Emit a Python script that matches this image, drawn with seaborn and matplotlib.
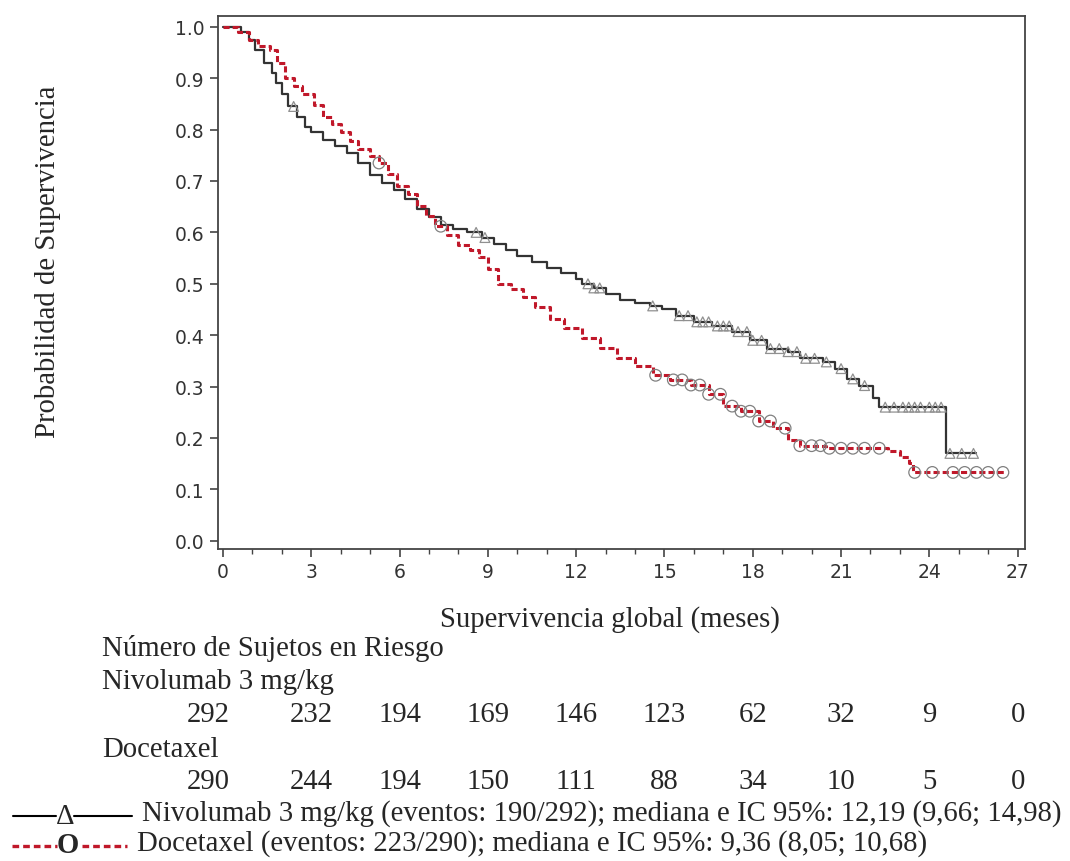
import matplotlib
matplotlib.use('Agg')
import matplotlib.pyplot as plt
import matplotlib.transforms as mtransforms
from matplotlib.lines import Line2D
from matplotlib.ticker import MultipleLocator
import seaborn as sns
import numpy as np

# Nivolumab 3 mg/kg: escalones de la curva KM (meses, supervivencia)
nivo_t = [0.0, 0.6, 0.9, 1.1, 1.4, 1.65, 1.8, 2.0, 2.2, 2.5, 2.8, 3.0, 3.4, 3.8,
          4.2, 4.6, 5.0, 5.4, 5.8, 6.2, 6.6, 7.0, 7.4, 7.8, 8.3, 8.8, 9.2, 9.6,
          10.0, 10.5, 11.0, 11.5, 12.0, 12.2, 12.6, 13.0, 13.5, 14.0, 14.5, 14.9,
          15.4, 16.0, 16.6, 17.3, 17.9, 18.5, 19.2, 19.6, 20.4, 20.8, 21.2, 21.6,
          22.1, 22.3, 24.55, 25.6]
nivo_s = [1.0, 0.99, 0.975, 0.955, 0.93, 0.91, 0.89, 0.87, 0.845, 0.825, 0.805,
          0.795, 0.78, 0.768, 0.755, 0.735, 0.712, 0.697, 0.682, 0.665, 0.645,
          0.63, 0.615, 0.606, 0.60, 0.59, 0.578, 0.565, 0.555, 0.543, 0.531,
          0.521, 0.51, 0.50, 0.492, 0.481, 0.468, 0.463, 0.457, 0.45, 0.438,
          0.426, 0.418, 0.407, 0.39, 0.374, 0.368, 0.355, 0.348, 0.335, 0.315,
          0.302, 0.278, 0.26, 0.17, 0.17]
nivo_cens = [2.4, 8.6, 8.9, 12.4, 12.6, 12.8, 14.6, 15.5, 15.8, 16.1, 16.3, 16.5,
             16.8, 17.0, 17.2, 17.5, 17.8, 18.0, 18.3, 18.6, 18.9, 19.2, 19.5,
             19.8, 20.1, 20.5, 21.0, 21.4, 21.8, 22.5, 22.8, 23.1, 23.3, 23.5,
             23.7, 24.0, 24.2, 24.4, 24.7, 25.1, 25.5]

# Docetaxel
doce_t = [0.0, 0.5, 0.9, 1.2, 1.6, 1.85, 2.1, 2.4, 2.7, 3.1, 3.4, 3.7, 4.0, 4.3,
          4.6, 5.0, 5.3, 5.6, 5.9, 6.3, 6.6, 6.9, 7.2, 7.6, 8.0, 8.4, 8.7, 9.0,
          9.36, 9.8, 10.2, 10.6, 11.1, 11.6, 12.2, 12.8, 13.4, 14.0, 14.6, 15.2,
          15.9, 16.5, 17.0, 17.6, 18.2, 18.7, 19.2, 19.6, 20.5, 22.6, 23.0, 23.3,
          23.45, 26.6]
doce_s = [1.0, 0.99, 0.975, 0.962, 0.955, 0.93, 0.90, 0.885, 0.87, 0.848, 0.825,
          0.81, 0.795, 0.778, 0.762, 0.748, 0.735, 0.713, 0.69, 0.675, 0.652,
          0.632, 0.612, 0.595, 0.576, 0.565, 0.552, 0.528, 0.50, 0.49, 0.475,
          0.455, 0.432, 0.414, 0.394, 0.375, 0.355, 0.34, 0.322, 0.313, 0.303,
          0.285, 0.262, 0.252, 0.233, 0.219, 0.197, 0.185, 0.18, 0.175, 0.163,
          0.152, 0.133, 0.133]
doce_cens = [5.3, 7.4, 14.7, 15.3, 15.6, 15.9, 16.2, 16.5, 16.9, 17.3, 17.6,
             17.9, 18.2, 18.6, 19.1, 19.6, 20.0, 20.3, 20.6, 21.0, 21.4, 21.8,
             22.3, 23.5, 24.1, 24.8, 25.2, 25.6, 26.0, 26.5]

meses = [0, 3, 6, 9, 12, 15, 18, 21, 24, 27]
riesgo_nivo = [292, 232, 194, 169, 146, 123, 62, 32, 9, 0]
riesgo_doce = [290, 244, 194, 150, 111, 88, 34, 10, 5, 0]


def km_en(tk, sk, tc):
    tk = np.asarray(tk)
    sk = np.asarray(sk)
    idx = np.searchsorted(tk, tc, side='right') - 1
    return sk[idx]


sns.set_style('ticks')
plt.rcParams['font.family'] = ['DejaVu Sans']
SERIF = 'Liberation Serif'
W, H = 1070, 862

fig = plt.figure(figsize=(W / 100, H / 100), dpi=100)
ax = fig.add_axes([218 / W, 1 - 550 / H, (1025 - 218) / W, (550 - 17) / H])

negro = '#333333'
rojo = '#c0182a'

sns.lineplot(x=nivo_t, y=nivo_s, ax=ax, color=negro, linewidth=1.6,
             drawstyle='steps-post', estimator=None)
sns.lineplot(x=doce_t, y=doce_s, ax=ax, color=rojo, linewidth=2.2,
             drawstyle='steps-post', estimator=None, linestyle=(0, (2.0, 1.0)))

ax.scatter(nivo_cens, km_en(nivo_t, nivo_s, nivo_cens), marker='^', s=50,
           facecolors='none', edgecolors='#909090', linewidths=0.9, zorder=3)
ax.scatter(doce_cens, km_en(doce_t, doce_s, doce_cens), marker='o', s=70,
           facecolors='none', edgecolors='#808080', linewidths=0.9, zorder=3)

ax.set_xlim(-0.17, 27.25)
ax.set_ylim(-0.016, 1.021)
ax.set_xticks(meses)
ax.xaxis.set_minor_locator(MultipleLocator(1))
ax.set_yticks(np.arange(0, 1.01, 0.1))
ax.set_yticklabels([f'{v:.1f}' for v in np.arange(0, 1.01, 0.1)])
ax.tick_params(axis='both', which='major', labelsize=13.5, labelcolor='#333333',
               color='#444444', length=6, width=1.2, direction='out')
ax.tick_params(axis='x', which='minor', length=3.5, width=1.0, color='#444444')
for sp in ax.spines.values():
    sp.set_visible(True)
    sp.set_color('#444444')
    sp.set_linewidth(1.3)
ax.set_xlabel('')
ax.set_ylabel('')


def fx(x):
    return x / W


def fy(y):
    return 1 - y / H


fs = 20.7
fig.text(fx(48), fy(262), 'Probabilidad de Supervivencia', rotation=90,
         ha='center', va='center', family=SERIF, fontsize=fs)
fig.text(fx(610), fy(620), 'Supervivencia global (meses)', ha='center',
         va='center', family=SERIF, fontsize=fs)
fig.text(fx(102), fy(648), 'Número de Sujetos en Riesgo', ha='left',
         va='center', family=SERIF, fontsize=fs)
fig.text(fx(102), fy(682), 'Nivolumab 3 mg/kg', ha='left', va='center',
         family=SERIF, fontsize=fs)
fig.text(fx(102), fy(750), 'Docetaxel', ha='left', va='center',
         family=SERIF, fontsize=fs)

trans = mtransforms.blended_transform_factory(ax.transData, fig.transFigure)
for m, n1, n2 in zip(meses, riesgo_nivo, riesgo_doce):
    xm = m - 0.5 if m == 0 else m
    fig.text(xm, fy(715), str(n1), transform=trans, ha='center', va='center',
             family=SERIF, fontsize=fs)
    fig.text(xm, fy(782), str(n2), transform=trans, ha='center', va='center',
             family=SERIF, fontsize=fs)

# leyenda inferior
fig.add_artist(Line2D([fx(13), fx(56)], [fy(817), fy(817)], color='black', lw=1.5))
fig.add_artist(Line2D([fx(74), fx(132)], [fy(817), fy(817)], color='black', lw=1.5))
fig.text(fx(65), fy(817), 'Δ', ha='center', va='center', family=SERIF,
         fontsize=fs)
fig.text(fx(142), fy(814),
         'Nivolumab 3 mg/kg (eventos: 190/292); mediana e IC 95%: 12,19 (9,66; 14,98)',
         ha='left', va='center', family=SERIF, fontsize=fs)
fig.add_artist(Line2D([fx(12), fx(57)], [fy(847), fy(847)], color=rojo, lw=2.4,
                      linestyle=(0, (2.0, 1.2))))
fig.add_artist(Line2D([fx(82), fx(127)], [fy(847), fy(847)], color=rojo, lw=2.4,
                      linestyle=(0, (2.0, 1.2))))
fig.text(fx(68), fy(846), 'O', ha='center', va='center', family=SERIF,
         fontsize=fs, fontweight='bold')
fig.text(fx(137), fy(844),
         'Docetaxel (eventos: 223/290); mediana e IC 95%: 9,36 (8,05; 10,68)',
         ha='left', va='center', family=SERIF, fontsize=fs)

fig.savefig('out.png', dpi=100)
